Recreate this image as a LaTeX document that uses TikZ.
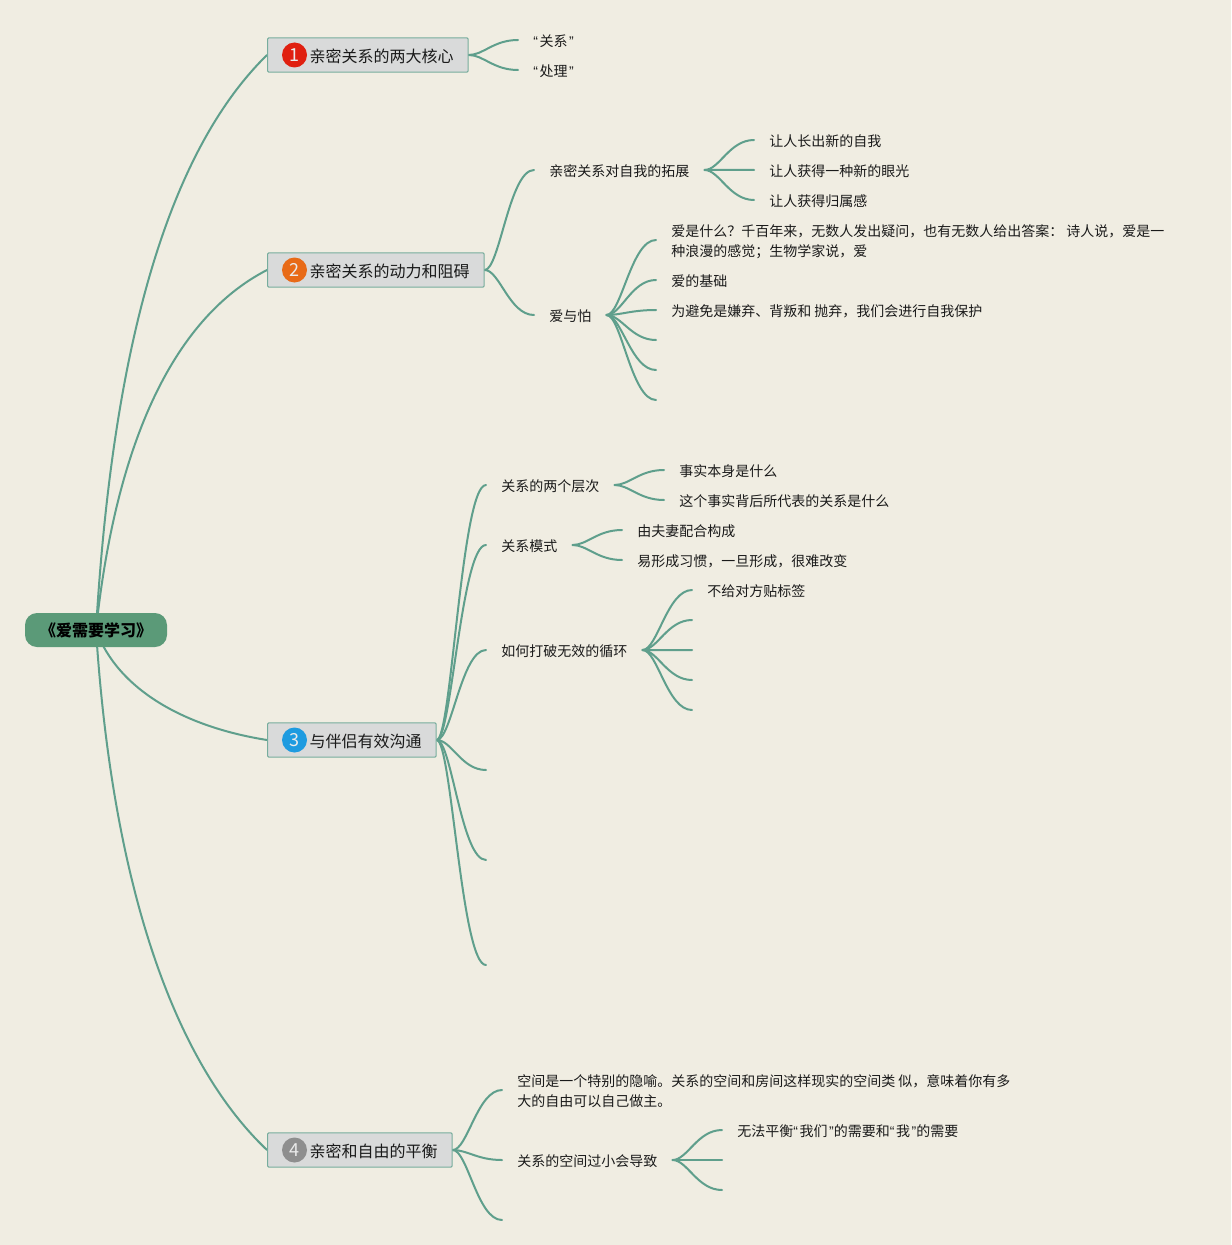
\documentclass[tikz,border=0pt]{standalone}
\usepackage{fontspec}
\setmainfont{Noto Sans CJK SC}
\newfontfamily\quotefont{Liberation Sans}
\usetikzlibrary{calc,backgrounds}
\definecolor{paper}{HTML}{F0EDE2}
\definecolor{teal}{HTML}{5F9F8C}
\definecolor{rootgreen}{HTML}{5B9A78}
\definecolor{boxgrey}{HTML}{D9DADA}
\definecolor{inkblack}{HTML}{1A1A1A}
\newcommand{\qo}{{\quotefont “}\kern1.2pt}
\newcommand{\qc}{\kern1.2pt{\quotefont ”}}
\newcommand{\twolines}[2]{\vbox{\hbox{#1}\hbox{#2}}}
\newcommand{\bough}[2]{\draw[branch] (#1) .. controls ($(#1)!.3!(#1 -| #2)$) and ($(#2)!.5!(#2 -| #1)$) .. (#2);}
\tikzset{
  branch/.style={draw=teal,line width=1.5pt,line cap=round},
  rootbox/.style={draw=none,fill=rootgreen,rounded corners=9pt,minimum width=106.5pt,minimum height=25.5pt,inner sep=0pt,text=black,font=\fontsize{12}{15}\selectfont\bfseries},
  topbox/.style={anchor=west,draw=teal!85!white,line width=.8pt,fill=boxgrey,rounded corners=.8pt,minimum height=25.6pt,inner xsep=11pt,inner ysep=0pt,text=inkblack,font=\fontsize{12}{15}\selectfont,text height=13.3pt,text depth=2.7pt},
  leaf/.style={anchor=west,inner xsep=11.25pt,inner ysep=0pt,text=inkblack,font=\fontsize{10.5}{15}\selectfont,text height=11pt,text depth=1.52pt},
  leafwide/.style={leaf,text height=26.48pt,text depth=2pt},
  badge/.style={circle,minimum size=18.75pt,inner sep=0pt,text=white!92!black,font=\fontsize{13.5}{15}\selectfont},
}
\begin{document}
\begin{tikzpicture}[x=0.75pt,y=-0.75pt]
\useasboundingbox (0,0) rectangle (1231,1245);
\begin{pgfonlayer}{background}
\fill[paper] (0,0) rectangle (1231,1245);
\end{pgfonlayer}

\node[rootbox] (root) at (96,630) {《爱需要学习》};

\node[topbox] (n1) at (267,55) {\hspace*{20.5pt}亲密关系的两大核心};
\node[topbox] (n2) at (267,270) {\hspace*{20.5pt}亲密关系的动力和阻碍};
\node[topbox] (n3) at (267,740) {\hspace*{20.5pt}与伴侣有效沟通};
\node[topbox] (n4) at (267,1150) {\hspace*{20.5pt}亲密和自由的平衡};
\node[badge,fill={rgb,255:red,224;green,32;blue,16}] (b1) at (294.5,55) {1};
\node[badge,fill={rgb,255:red,232;green,106;blue,23}] (b2) at (294.5,270) {2};
\node[badge,fill={rgb,255:red,30;green,155;blue,224}] (b3) at (294.5,740) {3};
\node[badge,fill={rgb,255:red,142;green,142;blue,142}] (b4) at (294.5,1150) {4};

% branch 1
\node[leaf] (t11) at (518,40) {\qo 关系\qc};
\node[leaf] (t12) at (518,70) {\qo 处理\qc};

% branch 2
\node[leaf] (a1) at (534,170) {亲密关系对自我的拓展};
\node[leaf] (a2) at (534,315) {爱与怕};
\node[leaf] (a11) at (754,140) {让人长出新的自我};
\node[leaf] (a12) at (754,170) {让人获得一种新的眼光};
\node[leaf] (a13) at (754,200) {让人获得归属感};
\node[leafwide] (a21) at (656,240) {\twolines{爱是什么？千百年来，无数人发出疑问，也有无数人给出答案： 诗人说，爱是一}{种浪漫的感觉；生物学家说，爱}};
\node[leaf] (a22) at (656,280) {爱的基础};
\node[leaf] (a23) at (656,310) {为避免是嫌弃、背叛和 抛弃，我们会进行自我保护};
\coordinate (a24) at (656,340);
\coordinate (a25) at (656,370);
\coordinate (a26) at (656,400);

% branch 3
\node[leaf] (c1) at (486,485) {关系的两个层次};
\node[leaf] (c2) at (486,545) {关系模式};
\node[leaf] (c3) at (486,650) {如何打破无效的循环};
\coordinate (c4) at (486,770);
\coordinate (c5) at (486,860);
\coordinate (c6) at (486,965);
\node[leaf] (c11) at (664,470) {事实本身是什么};
\node[leaf] (c12) at (664,500) {这个事实背后所代表的关系是什么};
\node[leaf] (c21) at (622,530) {由夫妻配合构成};
\node[leaf] (c22) at (622,560) {易形成习惯，一旦形成，很难改变};
\node[leaf] (c31) at (692,590) {不给对方贴标签};
\coordinate (c32) at (692,620);
\coordinate (c33) at (692,650);
\coordinate (c34) at (692,680);
\coordinate (c35) at (692,710);

% branch 4
\node[leafwide] (d1) at (502,1090) {\twolines{空间是一个特别的隐喻。关系的空间和房间这样现实的空间类 似，意味着你有多}{大的自由可以自己做主。}};
\node[leaf] (d2) at (502,1160) {关系的空间过小会导致};
\coordinate (d3) at (502,1220);
\node[leaf] (d21) at (722,1130) {无法平衡\qo 我们\qc 的需要和\qo 我\qc 的需要};
\coordinate (d22) at (722,1160);
\coordinate (d23) at (722,1190);

\begin{pgfonlayer}{background}
\draw[branch] (root.center) .. controls (113,340) and (170,150) .. (n1.west);
\draw[branch] (root.center) .. controls (115,450) and (170,320) .. (n2.west);
\draw[branch] (root.center) .. controls (118,690) and (185,727) .. (n3.west);
\draw[branch] (root.center) .. controls (112,880) and (172,1060) .. (n4.west);
\bough{n1.east}{t11.west}
\bough{n1.east}{t12.west}
\bough{n2.east}{a1.west}
\bough{n2.east}{a2.west}
\bough{a1.east}{a11.west}
\bough{a1.east}{a12.west}
\bough{a1.east}{a13.west}
\bough{a2.east}{a21.west}
\bough{a2.east}{a22.west}
\bough{a2.east}{a23.west}
\bough{a2.east}{a24}
\bough{a2.east}{a25}
\bough{a2.east}{a26}
\bough{n3.east}{c1.west}
\bough{n3.east}{c2.west}
\bough{n3.east}{c3.west}
\bough{n3.east}{c4}
\bough{n3.east}{c5}
\bough{n3.east}{c6}
\bough{c1.east}{c11.west}
\bough{c1.east}{c12.west}
\bough{c2.east}{c21.west}
\bough{c2.east}{c22.west}
\bough{c3.east}{c31.west}
\bough{c3.east}{c32}
\bough{c3.east}{c33}
\bough{c3.east}{c34}
\bough{c3.east}{c35}
\bough{n4.east}{d1.west}
\bough{n4.east}{d2.west}
\bough{n4.east}{d3}
\bough{d2.east}{d21.west}
\bough{d2.east}{d22}
\bough{d2.east}{d23}
\end{pgfonlayer}
\end{tikzpicture}
\end{document}
